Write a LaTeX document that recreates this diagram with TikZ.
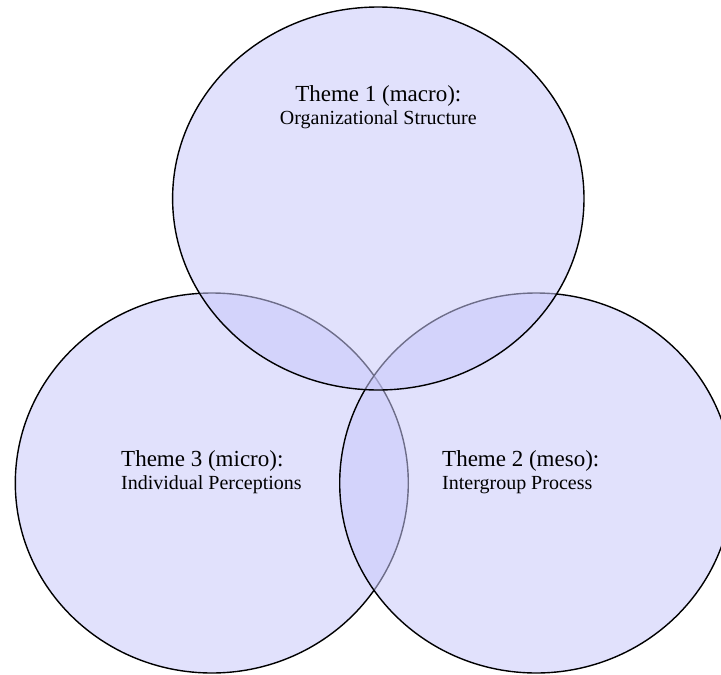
\documentclass[tikz,border=0pt]{standalone}
\usepackage{fontspec}
\setmainfont{Liberation Serif}
\definecolor{setfill}{RGB}{200,200,250}
\tikzset{
  setcircle/.style={draw=black, line width=1.4pt, fill=setfill, fill opacity=0.55},
  headlbl/.style={font=\fontsize{23}{27}\selectfont, inner sep=0pt},
  sublbl/.style={font=\fontsize{20}{23}\selectfont, inner sep=0pt}
}
\begin{document}
\begin{tikzpicture}[x=1pt,y=-1pt]
\useasboundingbox (0,0) rectangle (721,675);
\clip (0,0) rectangle (721,675);
\draw[setcircle] (211.8,483) ellipse [x radius=196.5, y radius=190];
\draw[setcircle] (536.2,483) ellipse [x radius=196.5, y radius=190];
\draw[setcircle] (378.3,198.5) ellipse [x radius=205.7, y radius=191.5];
\node[headlbl, anchor=base] (t1a) at (378.3,101) {Theme 1 (macro):};
\node[sublbl, anchor=base] (t1b) at (378.3,124) {Organizational Structure};
\node[headlbl, anchor=base west] (t3a) at (121,466) {Theme 3 (micro):};
\node[sublbl, anchor=base west] (t3b) at (121,489) {Individual Perceptions};
\node[headlbl, anchor=base west] (t2a) at (442,466) {Theme 2 (meso):};
\node[sublbl, anchor=base west] (t2b) at (442,489) {Intergroup Process};
\end{tikzpicture}
\end{document}
